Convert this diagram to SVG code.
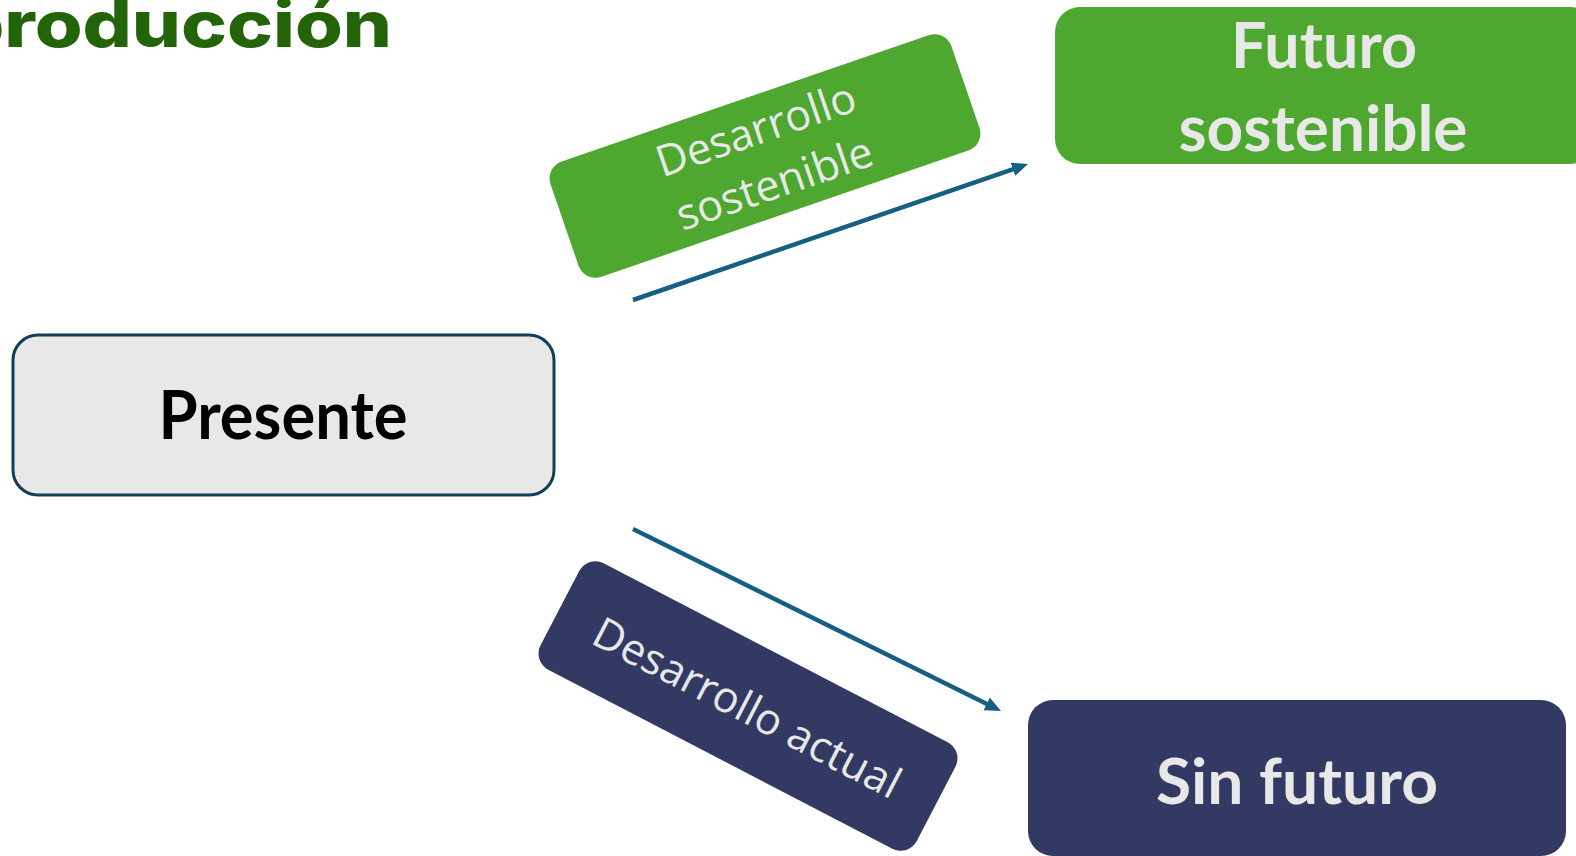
<svg xmlns="http://www.w3.org/2000/svg" width="1576" height="856" viewBox="0 0 1576 856">
  <style>
    .title { font-family: Inter, "Liberation Sans", sans-serif; font-weight: 800; fill: #236409; }
    .big { font-family: Lato, "Open Sans", "Liberation Sans", sans-serif; font-weight: 700; text-anchor: middle; }
    .light { fill: #e8e8e8; }
    .path-label { font-family: "Open Sans", "Noto Sans", sans-serif; font-weight: 400; font-size: 43px; fill: #e8e8e8; text-anchor: middle; }
    .conn { stroke: #156082; stroke-width: 4.5; fill: none; marker-end: url(#head); }
  </style>
  <defs>
    <marker id="head" viewBox="0 0 16 14" refX="2" refY="7" markerWidth="16" markerHeight="14" markerUnits="userSpaceOnUse" orient="auto">
      <path d="M0,0 L16,7 L0,14 z" fill="#156082"/>
    </marker>
  </defs>

  <rect width="1576" height="856" fill="#ffffff"/>

  <!-- heading, running off the left edge -->
  <text class="title" x="-45" y="47" font-size="64" textLength="437" lengthAdjust="spacingAndGlyphs">producción</text>

  <!-- connectors -->
  <g id="connectors">
    <path class="conn" d="M633,300 L1014.8,168.6"/>
    <path class="conn" d="M633,529 L988.5,704.8"/>
  </g>

  <g id="presente">
    <rect x="13" y="335" width="541" height="160" rx="25" fill="#e8e8e8" stroke="#123f57" stroke-width="3"/>
    <text class="big" x="283" y="439" font-size="66" fill="#000000" textLength="249" lengthAdjust="spacingAndGlyphs">Presente</text>
  </g>

  <g id="desarrollo-sostenible" transform="translate(765,156) rotate(-19)">
    <rect x="-212" y="-61" width="424" height="122" rx="18" fill="#4ea72e"/>
    <text class="path-label" x="0" y="-13">Desarrollo</text>
    <text class="path-label" x="0" y="44">sostenible</text>
  </g>

  <g id="desarrollo-actual" transform="translate(748,706) rotate(27.5)">
    <rect x="-212" y="-60" width="424" height="120" rx="18" fill="#323a64"/>
    <text class="path-label" x="0" y="17">Desarrollo actual</text>
  </g>

  <g id="futuro-sostenible">
    <rect x="1055" y="7" width="540" height="157" rx="25" fill="#4ea72e"/>
    <text class="big light" x="1324" y="68" font-size="64" textLength="186" lengthAdjust="spacingAndGlyphs">Futuro</text>
    <text class="big light" x="1323" y="151" font-size="64" textLength="289" lengthAdjust="spacingAndGlyphs">sostenible</text>
  </g>

  <g id="sin-futuro">
    <rect x="1028" y="700" width="538" height="156" rx="25" fill="#323a64"/>
    <text class="big light" x="1297" y="804" font-size="63" textLength="282" lengthAdjust="spacingAndGlyphs">Sin futuro</text>
  </g>
</svg>
